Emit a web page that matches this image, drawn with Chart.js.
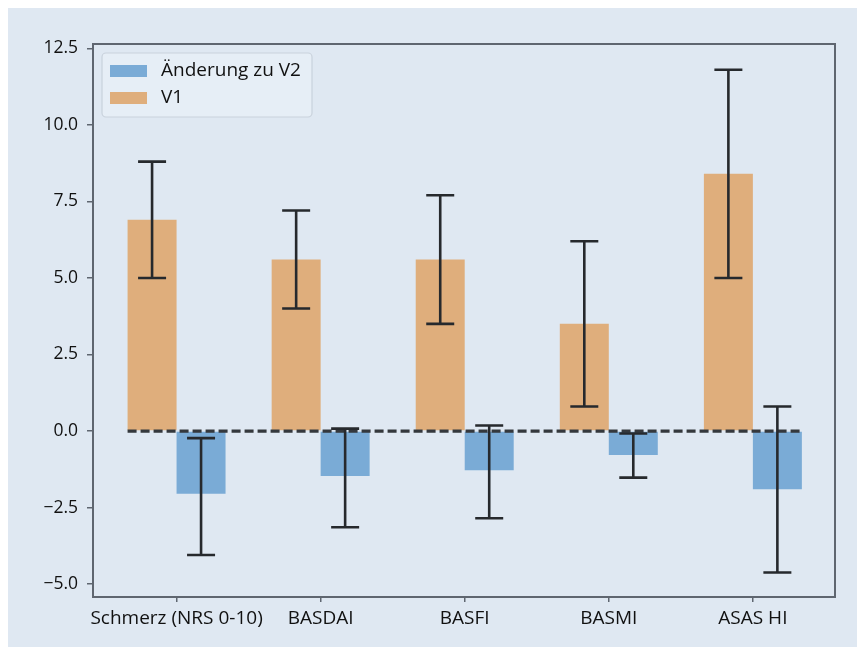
<!DOCTYPE html>
<html>
<head>
<meta charset="utf-8">
<script src="https://cdn.jsdelivr.net/npm/chart.js@4/dist/chart.umd.min.js"></script>
<style>
  html, body { margin: 0; padding: 0; background: #ffffff; }
  #wrap { position: absolute; left: 0; top: 0; width: 857px; height: 656px; }
</style>
</head>
<body>
<div id="wrap"><canvas id="c" width="857" height="656"></canvas></div>
<script>
const categories = ['Schmerz (NRS 0-10)', 'BASDAI', 'BASFI', 'BASMI', 'ASAS HI'];
const v1Values = [6.9, 5.6, 5.6, 3.5, 8.4];
const v1ErrLow = [5.0, 4.0, 3.5, 0.8, 5.0];
const v1ErrHigh = [8.8, 7.2, 7.7, 6.2, 11.8];
const changeValues = [-2.05, -1.47, -1.28, -0.78, -1.9];
const changeErrLow = [-4.05, -3.14, -2.85, -1.52, -4.62];
const changeErrHigh = [-0.23, 0.08, 0.18, -0.08, 0.8];
const yTickValues = [-5, -2.5, 0, 2.5, 5, 7.5, 10, 12.5];
const legendLabels = ['Änderung zu V2', 'V1'];

const FONT = '"Open Sans", "DejaVu Sans", sans-serif';
const BG = '#dfe8f2';
const ORANGE = '#dfae7c';
const BLUE = '#7aabd6';
const SPINE = '#5f6670';

const panelPlugin = {
  id: 'panel',
  beforeDraw(chart) {
    const ctx = chart.ctx;
    ctx.save();
    ctx.fillStyle = BG;
    ctx.fillRect(8, 8, chart.width - 8, chart.height - 17);
    ctx.restore();
  },
  afterDatasetsDraw(chart) {
    const ctx = chart.ctx;
    const ys = chart.scales.y;
    const area = chart.chartArea;
    // dashed zero line across bars
    const m0 = chart.getDatasetMeta(0), m1 = chart.getDatasetMeta(1);
    const first = m0.data[0], last = m1.data[m1.data.length - 1];
    const y0 = ys.getPixelForValue(0);
    ctx.save();
    ctx.strokeStyle = '#34383d';
    ctx.lineWidth = 3.2;
    ctx.setLineDash([9, 4]);
    ctx.beginPath();
    ctx.moveTo(first.x - first.width / 2, y0);
    ctx.lineTo(last.x + last.width / 2, y0);
    ctx.stroke();
    ctx.setLineDash([]);
    // error bars
    chart.data.datasets.forEach((ds, di) => {
      const meta = chart.getDatasetMeta(di);
      meta.data.forEach((el, i) => {
        const yl = ys.getPixelForValue(ds.errLow[i]);
        const yh = ys.getPixelForValue(ds.errHigh[i]);
        ctx.strokeStyle = '#26292d';
        ctx.lineWidth = 2.6;
        ctx.beginPath();
        ctx.moveTo(el.x, yl); ctx.lineTo(el.x, yh);
        ctx.moveTo(el.x - 14, yl); ctx.lineTo(el.x + 14, yl);
        ctx.moveTo(el.x - 14, yh); ctx.lineTo(el.x + 14, yh);
        ctx.stroke();
      });
    });
    // axes box
    ctx.strokeStyle = SPINE;
    ctx.lineWidth = 2;
    ctx.strokeRect(area.left, area.top, area.right - area.left, area.bottom - area.top);
    // legend
    const lx = 102, ly = 53, lw = 210, lh = 64;
    ctx.fillStyle = 'rgba(232,239,247,0.85)';
    ctx.strokeStyle = '#c9d2dc';
    ctx.lineWidth = 1.2;
    ctx.beginPath();
    ctx.roundRect(lx, ly, lw, lh, 4);
    ctx.fill();
    ctx.stroke();
    const colors = [BLUE, ORANGE];
    ctx.font = '19px ' + FONT;
    ctx.textBaseline = 'middle';
    ctx.textAlign = 'left';
    legendLabels.forEach((t, k) => {
      const cy = ly + 18 + k * 27;
      ctx.fillStyle = colors[k];
      ctx.fillRect(110, cy - 6, 37, 12);
      ctx.fillStyle = '#111';
      ctx.fillText(t, 161, cy);
    });
    ctx.restore();
  }
};

new Chart(document.getElementById('c'), {
  type: 'bar',
  data: {
    datasets: [
      {
        label: legendLabels[1],
        data: v1Values.map((v, i) => ({ x: i, y: v })),
        errLow: v1ErrLow, errHigh: v1ErrHigh,
        backgroundColor: ORANGE,
        categoryPercentage: 0.68, barPercentage: 1.0
      },
      {
        label: legendLabels[0],
        data: changeValues.map((v, i) => ({ x: i, y: v })),
        errLow: changeErrLow, errHigh: changeErrHigh,
        backgroundColor: BLUE,
        categoryPercentage: 0.68, barPercentage: 1.0
      }
    ]
  },
  options: {
    responsive: false,
    animation: false,
    devicePixelRatio: 1,
    layout: { padding: { left: 8, right: 22, top: 44, bottom: 9 } },
    plugins: { legend: { display: false }, tooltip: { enabled: false } },
    scales: {
      x: {
        type: 'linear',
        offset: false,
        min: -0.58, max: 4.57,
        afterBuildTicks(s) { s.ticks = categories.map((c, i) => ({ value: i })); },
        afterFit(s) { s.height = 50; },
        grid: { display: true, offset: false, drawOnChartArea: false, drawTicks: true, tickLength: 5, color: SPINE, lineWidth: 1.5 },
        border: { display: false },
        ticks: {
          callback: (v) => categories[v],
          font: { family: FONT, size: 19 },
          color: '#111',
          padding: 5,
          maxRotation: 0, autoSkip: false
        }
      },
      y: {
        min: -5.42, max: 12.64,
        afterBuildTicks(s) { s.ticks = yTickValues.map(v => ({ value: v })); },
        afterFit(s) { s.width = 85; },
        grid: { display: true, drawOnChartArea: false, drawTicks: true, tickLength: 6, color: SPINE, lineWidth: 1.5 },
        border: { display: false },
        ticks: {
          callback: (v) => v.toFixed(1).replace('-', '\u2212'),
          font: { family: FONT, size: 17.5 },
          color: '#111',
          padding: 9
        }
      }
    }
  },
  plugins: [panelPlugin]
});
</script>
</body>
</html>
